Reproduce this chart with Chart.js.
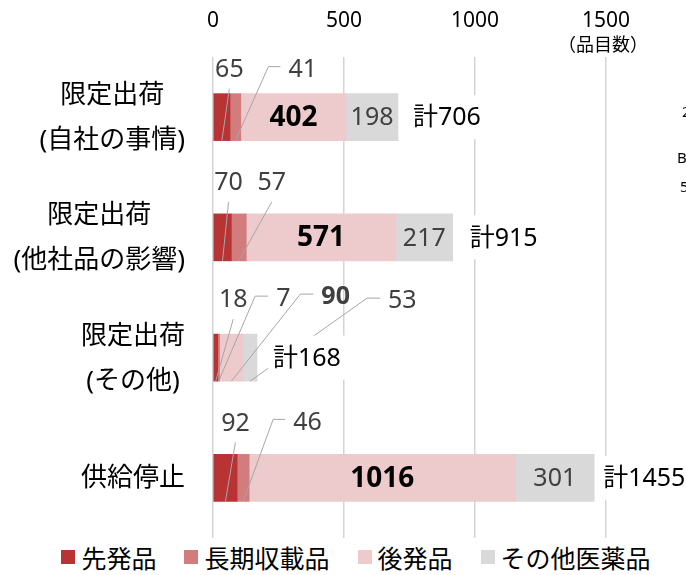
<!DOCTYPE html>
<html lang="ja">
<head>
<meta charset="utf-8">
<script src="https://cdn.jsdelivr.net/npm/chart.js@4"></script>
<style>
  html, body { margin: 0; padding: 0; background: #fff; }
  #wrap { width: 686px; height: 575px; position: relative; }
  #legend {
    display: flex; justify-content: center; align-items: center;
    height: 37px; padding-left: 26px; box-sizing: border-box;
    font-family: "Noto Sans", "Noto Sans CJK JP", sans-serif; font-size: 25px; color: #000;
  }
  #legend .item { display: flex; align-items: center; margin: 0 14px; }
  #legend .box { width: 14px; height: 14px; margin-right: 6px; }
</style>
</head>
<body>
<div id="wrap">
  <canvas id="chart" width="686" height="538"></canvas>
  <div id="legend"></div>
</div>
<script>
// chart data
const categories = [['限定出荷', '(自社の事情)'], ['限定出荷', '(他社品の影響)'], ['限定出荷', '(その他)'], ['供給停止']];
const seriesNames = ['先発品', '長期収載品', '後発品', 'その他医薬品'];
const brandValues = [65, 70, 18, 92];
const longListedValues = [41, 57, 7, 46];
const genericValues = [402, 571, 90, 1016];
const otherValues = [198, 217, 53, 301];
const xTicks = [0, 500, 1000, 1500];
const unitLabel = '（品目数）';
const edgeFragments = ['2', 'B', '5']; // text cut off at the right edge of the picture

const colors = ['#b83334', '#d37c7e', '#edcacc', '#d9d9d9'];
const FONT = '"Noto Sans", "Noto Sans CJK JP", sans-serif';

// label placement (pixel offsets, not data)
const insideLabels = [
  {ds: 2, cat: 0, bold: true}, {ds: 3, cat: 0},
  {ds: 2, cat: 1, bold: true}, {ds: 3, cat: 1},
  {ds: 2, cat: 3, bold: true}, {ds: 3, cat: 3}
];
// leader lines start at the bottom centre of a segment
const callouts = [
  {ds: 0, cat: 0, dx: 7.5, dy: -52, tail: 0},
  {ds: 1, cat: 0, dx: 33, dy: -74, tail: 12},
  {ds: 0, cat: 1, dx: 6, dy: -59, tail: 0},
  {ds: 1, cat: 1, dx: 33, dy: -59, tail: 0},
  {ds: 0, cat: 2, dx: 17.5, dy: -62, tail: 0},
  {ds: 1, cat: 2, dx: 36.5, dy: -85, tail: 13},
  {ds: 2, cat: 2, dx: 69, dy: -87, tail: 13, bold: true},
  {ds: 3, cat: 2, dx: 117, dy: -83, tail: 13},
  {ds: 0, cat: 3, dx: 10, dy: -59, tail: 0},
  {ds: 1, cat: 3, dx: 30, dy: -82, tail: 12}
];
const totalGaps = [15, 17, 16, 9];

const allSeries = [brandValues, longListedValues, genericValues, otherValues];
const totals = categories.map((_, i) => allSeries.reduce((s, arr) => s + arr[i], 0));

function font(size, weight) {
  return (weight || 'normal') + ' ' + size + 'px ' + FONT;
}

const labelPlugin = {
  id: 'barLabels',
  afterDatasetsDraw(chart) {
    const ctx = chart.ctx;
    const xs = chart.scales.x;
    const ys = chart.scales.y;
    const seg = (ds, cat) => {
      const bar = chart.getDatasetMeta(ds).data[cat];
      const left = Math.min(bar.x, bar.base);
      const right = Math.max(bar.x, bar.base);
      return {left, right, cx: (left + right) / 2, cy: bar.y, bottom: bar.y + bar.height / 2};
    };

    ctx.save();
    ctx.textBaseline = 'middle';

    // values inside the wide segments
    insideLabels.forEach(l => {
      const s = seg(l.ds, l.cat);
      ctx.font = l.bold ? font(28, 'bold') : font(25);
      ctx.fillStyle = l.bold ? '#000' : '#404040';
      ctx.textAlign = 'center';
      ctx.fillText(allSeries[l.ds][l.cat], s.cx, s.cy + 1);
    });

    // callouts with leader lines
    callouts.forEach(c => {
      const s = seg(c.ds, c.cat);
      const ex = s.cx + c.dx, ey = s.bottom + c.dy;
      ctx.strokeStyle = '#a6a6a6';
      ctx.lineWidth = 1;
      ctx.beginPath();
      ctx.moveTo(s.cx, s.bottom);
      ctx.lineTo(ex, ey);
      if (c.tail) ctx.lineTo(ex + c.tail, ey);
      ctx.stroke();
      ctx.font = font(25, c.bold ? 'bold' : 'normal');
      ctx.fillStyle = '#404040';
      if (c.tail) {
        ctx.textAlign = 'left';
        ctx.fillText(allSeries[c.ds][c.cat], ex + c.tail + 8, ey + 3);
      } else {
        ctx.textAlign = 'center';
        ctx.fillText(allSeries[c.ds][c.cat], ex, ey - 19);
      }
    });

    // totals, on a white box
    totals.forEach((t, i) => {
      const s = seg(3, i);
      const text = '計' + t;
      ctx.font = font(25);
      const w = ctx.measureText(text).width;
      const x0 = s.right + totalGaps[i];
      ctx.fillStyle = '#fff';
      ctx.fillRect(x0 - 5, s.cy - 22, w + 10, 44);
      ctx.fillStyle = '#000';
      ctx.textAlign = 'left';
      ctx.fillText(text, x0, s.cy + 1);
    });

    // category labels, each block centred on its own widest line
    ctx.font = font(26);
    ctx.fillStyle = '#000';
    ctx.textAlign = 'center';
    categories.forEach((lines, i) => {
      const cy = ys.getPixelForValue(i);
      const widest = Math.max(...lines.map(t => ctx.measureText(t).width));
      const cx = ys.right - 28 - widest / 2;
      lines.forEach((t, k) => {
        const ly = cy + (k - (lines.length - 1) / 2) * 45;
        ctx.fillText(t, cx, ly + 1);
      });
    });

    // unit under the last tick
    ctx.font = font(18);
    ctx.fillText(unitLabel, xs.getPixelForValue(xTicks[xTicks.length - 1]) - 3, 46);

    // fragments cut at the right edge
    ctx.font = font(15);
    ctx.textAlign = 'left';
    ctx.fillText(edgeFragments[0], 682, 113);
    ctx.fillText(edgeFragments[1], 677, 159);
    ctx.fillText(edgeFragments[2], 680, 188);
    ctx.restore();
  }
};

const chart = new Chart(document.getElementById('chart'), {
  type: 'bar',
  data: {
    labels: categories,
    datasets: seriesNames.map((name, i) => ({
      label: name,
      data: allSeries[i],
      backgroundColor: colors[i],
      borderWidth: 0,
      barThickness: 47
    }))
  },
  options: {
    indexAxis: 'y',
    responsive: false,
    animation: false,
    layout: { padding: { right: 80 } },
    scales: {
      x: {
        position: 'top',
        stacked: true,
        min: 0,
        max: 1500,
        afterBuildTicks: (scale) => { scale.ticks = xTicks.map(v => ({value: v})); },
        afterFit: (scale) => { scale.height = 57; },
        ticks: {
          color: '#000',
          padding: 23,
          font: { size: 21, family: FONT },
          callback: (value) => String(value)
        },
        grid: { color: '#d4d4d4', lineWidth: 1.5, drawTicks: false },
        border: { display: false }
      },
      y: {
        stacked: true,
        afterFit: (scale) => { scale.width = 213; },
        ticks: { display: false },
        grid: { display: false },
        border: { display: false }
      }
    },
    plugins: {
      legend: { display: false },
      tooltip: { enabled: false }
    }
  },
  plugins: [labelPlugin]
});

// HTML legend built from the chart's datasets
const legendEl = document.getElementById('legend');
chart.data.datasets.forEach(ds => {
  const item = document.createElement('span');
  item.className = 'item';
  const box = document.createElement('span');
  box.className = 'box';
  box.style.background = ds.backgroundColor;
  const label = document.createElement('span');
  label.textContent = ds.label;
  item.appendChild(box);
  item.appendChild(label);
  legendEl.appendChild(item);
});
</script>
</body>
</html>
